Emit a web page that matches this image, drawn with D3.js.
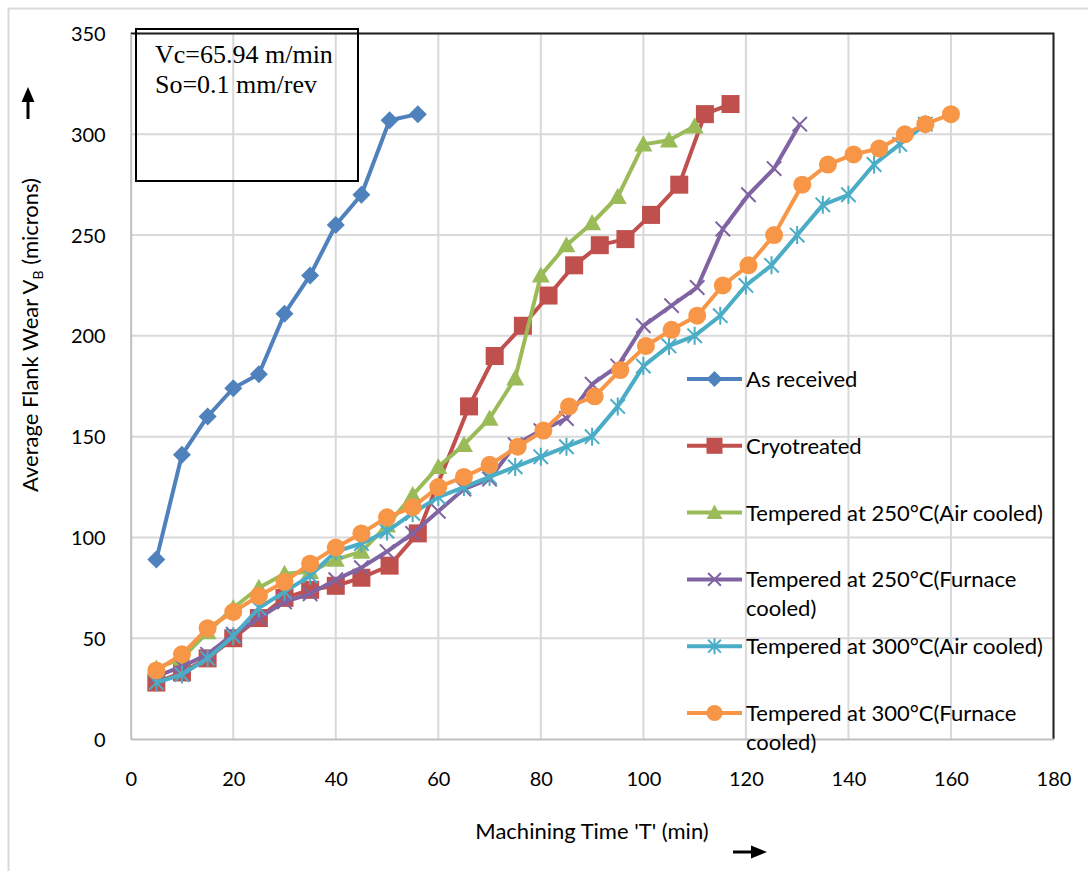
<!DOCTYPE html>
<html>
<head>
<meta charset="utf-8">
<script src="https://cdn.jsdelivr.net/npm/d3@7"></script>
<style>
  body { margin: 0; background: #fff; }
  svg { display: block; }
</style>
</head>
<body>
<div id="chartContainer"></div>
<script>
const W = 1088;
const H = 871;

// x / y ticks
const xTicks = [0, 20, 40, 60, 80, 100, 120, 140, 160, 180];
const yTicks = [0, 50, 100, 150, 200, 250, 300, 350];

// series (machining time in min, flank wear in microns)
const asReceivedT = [5, 10, 15, 20, 25, 30, 35, 40, 45, 50.5, 56];
const asReceivedVB = [89, 141, 160, 174, 181, 211, 230, 255, 270, 307, 310];

const cryoT = [5, 10, 15, 20, 25, 30, 35, 40, 45, 50.5, 56, 66, 71, 76.5, 81.5, 86.5, 91.5, 96.5, 101.5, 107, 112, 117];
const cryoVB = [28, 33, 40, 50, 60, 70, 74, 76, 80, 86, 102, 165, 190, 205, 220, 235, 245, 248, 260, 275, 310, 315];

const t250AirT = [5, 10, 15, 20, 25, 30, 35, 40, 45, 50, 55, 60, 65, 70, 75, 80, 85, 90, 95, 100, 105, 110];
const t250AirVB = [35, 40, 53, 65, 75, 82, 83, 89, 93, 106, 121, 135, 146, 159, 179, 230, 245, 256, 269, 295, 297, 304];

const t250FurnT = [5, 10, 15, 20, 25, 30, 35, 40, 45, 50, 55, 60, 65, 70, 75, 80, 85, 90, 95, 100, 105.5, 110.5, 115.5, 120.5, 125.5, 130.5];
const t250FurnVB = [31, 36, 42, 52, 60, 68, 72, 79, 85, 93, 102, 113, 124, 129, 146, 153, 159, 176, 185, 205, 215, 224, 253, 270, 283, 305];

const t300AirT = [5, 10, 15, 20, 25, 30, 35, 40, 45, 50, 55, 60, 65, 70, 75, 80, 85, 90, 95, 100, 105, 110, 115, 120, 125, 130, 135, 140, 145, 150, 155];
const t300AirVB = [28, 32, 40, 51, 65, 73, 81, 93, 97, 103, 112, 120, 125, 130, 135, 140, 145, 150, 165, 185, 195, 200, 210, 225, 235, 250, 265, 270, 285, 295, 305];

const t300FurnT = [5, 10, 15, 20, 25, 30, 35, 40, 45, 50, 55, 60, 65, 70, 75.5, 80.5, 85.5, 90.5, 95.5, 100.5, 105.5, 110.5, 115.5, 120.5, 125.5, 131, 136, 141, 146, 151, 155, 160];
const t300FurnVB = [34, 42, 55, 63, 71, 78, 87, 95, 102, 110, 115, 125, 130, 136, 145, 153, 165, 170, 183, 195, 203, 210, 225, 235, 250, 275, 285, 290, 293, 300, 305, 310];

const seriesNames = [
  "As received",
  "Cryotreated",
  "Tempered at 250°C(Air cooled)",
  "Tempered at 250°C(Furnace cooled)",
  "Tempered at 300°C(Air cooled)",
  "Tempered at 300°C(Furnace cooled)"
];
const legendLines = [
  ["As received"],
  ["Cryotreated"],
  ["Tempered at 250°C(Air cooled)"],
  ["Tempered at 250°C(Furnace", "cooled)"],
  ["Tempered at 300°C(Air cooled)"],
  ["Tempered at 300°C(Furnace", "cooled)"]
];
const colors = ["#4F81BD", "#C0504D", "#9BBB59", "#8064A2", "#4BACC6", "#F79646"];
const shapes = ["diamond", "square", "triangle", "cross", "star", "circle"];

const allT = [asReceivedT, cryoT, t250AirT, t250FurnT, t300AirT, t300FurnT];
const allVB = [asReceivedVB, cryoVB, t250AirVB, t250FurnVB, t300AirVB, t300FurnVB];

const series = seriesNames.map((name, i) => ({
  name: name,
  color: colors[i],
  shape: shapes[i],
  values: allT[i].map((t, j) => ({ t: t, vb: allVB[i][j] }))
}));

const font = "Lato, 'Open Sans', sans-serif";

const plot = { left: 130.7, right: 1053.5, top: 33.5, bottom: 739 };

const xScale = d3.scaleLinear().domain([0, 180]).range([plot.left, plot.right]);
const yScale = d3.scaleLinear().domain([0, 350]).range([plot.bottom, plot.top]);

const svg = d3.select("#chartContainer")
  .append("svg")
  .attr("width", W)
  .attr("height", H)
  .attr("viewBox", [0, 0, W, H]);

svg.append("rect").attr("width", W).attr("height", H).attr("fill", "#fff");

// outer chart frame
svg.append("rect")
  .attr("x", 8.5).attr("y", 8.5)
  .attr("width", W + 20).attr("height", H + 20)
  .attr("fill", "none")
  .attr("stroke", "#d9d9d9")
  .attr("stroke-width", 2);

// gridlines
const grid = svg.append("g");
grid.selectAll(".gx")
  .data(xTicks.slice(1))
  .enter()
  .append("line")
  .attr("x1", d => xScale(d)).attr("x2", d => xScale(d))
  .attr("y1", plot.top).attr("y2", plot.bottom)
  .attr("stroke", "#d9d9d9").attr("stroke-width", 2);
grid.selectAll(".gy")
  .data(yTicks.slice(1))
  .enter()
  .append("line")
  .attr("x1", plot.left).attr("x2", plot.right)
  .attr("y1", d => yScale(d)).attr("y2", d => yScale(d))
  .attr("stroke", "#d9d9d9").attr("stroke-width", 2);

// plot frame: black top / right, grey axes
svg.append("path")
  .attr("d", `M${plot.left},${plot.top}H${plot.right}V${plot.bottom}`)
  .attr("fill", "none").attr("stroke", "#222").attr("stroke-width", 2);

const xAxis = d3.axisBottom(xScale).tickValues(xTicks).tickSize(0).tickPadding(0);
const yAxis = d3.axisLeft(yScale).tickValues(yTicks).tickSize(0).tickPadding(0);

const gx = svg.append("g")
  .attr("transform", `translate(0, ${plot.bottom})`)
  .call(xAxis);
gx.select(".domain").attr("stroke", "#bfbfbf").attr("stroke-width", 2);
gx.selectAll("text")
  .attr("y", 47)
  .attr("dy", 0)
  .attr("fill", "#000")
  .style("font-family", font)
  .style("font-size", "20px");

const gy = svg.append("g")
  .attr("transform", `translate(${plot.left}, 0)`)
  .call(yAxis);
gy.select(".domain").attr("stroke", "#bfbfbf").attr("stroke-width", 2);
gy.selectAll("text")
  .attr("x", -25)
  .attr("dy", "0.35em")
  .attr("fill", "#000")
  .style("font-family", font)
  .style("font-size", "20px");

// marker drawing
function marker(sel, shape, color, s) {
  if (shape == "diamond") {
    sel.append("path")
      .attr("d", `M0,${-s}L${s},0L0,${s}L${-s},0Z`)
      .attr("fill", color);
  } else if (shape == "square") {
    sel.append("rect")
      .attr("x", -s).attr("y", -s).attr("width", 2 * s).attr("height", 2 * s)
      .attr("fill", color);
  } else if (shape == "triangle") {
    sel.append("path")
      .attr("d", `M0,${-s}L${s},${s * 0.8}L${-s},${s * 0.8}Z`)
      .attr("fill", color);
  } else if (shape == "circle") {
    sel.append("circle").attr("r", s).attr("fill", color);
  } else if (shape == "cross" || shape == "star") {
    const k = s * 0.8;
    let d = `M${-k},${-k}L${k},${k}M${-k},${k}L${k},${-k}`;
    if (shape == "star") d += `M0,${-s}L0,${s}`;
    sel.append("path")
      .attr("d", d)
      .attr("fill", "none")
      .attr("stroke", color)
      .attr("stroke-width", 2);
  }
}

const line = d3.line()
  .x(d => xScale(d.t))
  .y(d => yScale(d.vb));

series.forEach(s => {
  const g = svg.append("g");
  g.append("path")
    .datum(s.values)
    .attr("d", line)
    .attr("fill", "none")
    .attr("stroke", s.color)
    .attr("stroke-width", 4)
    .attr("stroke-linejoin", "round");
  g.selectAll(".pt")
    .data(s.values)
    .enter()
    .append("g")
    .attr("transform", d => `translate(${xScale(d.t)}, ${yScale(d.vb)})`)
    .each(function () { marker(d3.select(this), s.shape, s.color, 9); });
});

// legend
const legendX = 687;
const legendTop = 379;
const legendStep = 66.8;
series.forEach((s, i) => {
  const g = svg.append("g")
    .attr("transform", `translate(${legendX}, ${legendTop + i * legendStep})`);
  g.append("line")
    .attr("x1", 0).attr("x2", 55)
    .attr("stroke", s.color).attr("stroke-width", 4);
  const m = g.append("g").attr("transform", "translate(27.5, 0)");
  marker(m, s.shape, s.color, 8);
  const txt = g.append("text")
    .attr("x", 59)
    .attr("y", 8)
    .style("font-family", font)
    .style("font-size", "22px")
    .attr("fill", "#000");
  legendLines[i].forEach((l, j) => {
    txt.append("tspan").attr("x", 59).attr("dy", j == 0 ? 0 : 29).text(l);
  });
});

// condition box
svg.append("rect")
  .attr("x", 136).attr("y", 29)
  .attr("width", 222).attr("height", 152)
  .attr("fill", "none")
  .attr("stroke", "#000")
  .attr("stroke-width", 2);
svg.append("text")
  .attr("x", 155).attr("y", 63)
  .style("font-family", "'Liberation Serif', 'Times New Roman', serif")
  .style("font-size", "26px")
  .text("Vc=65.94 m/min");
svg.append("text")
  .attr("x", 155).attr("y", 93)
  .style("font-family", "'Liberation Serif', 'Times New Roman', serif")
  .style("font-size", "26px")
  .text("So=0.1 mm/rev");

// axis titles
const yTitle = svg.append("text")
  .attr("transform", "translate(38, 335) rotate(-90)")
  .attr("text-anchor", "middle")
  .style("font-family", font)
  .style("font-size", "22px");
yTitle.append("tspan").text("Average Flank Wear V");
yTitle.append("tspan").attr("dy", 5).style("font-size", "14px").text("B");
yTitle.append("tspan").attr("dy", -5).text(" (microns)");

svg.append("text")
  .attr("x", 592).attr("y", 839)
  .attr("text-anchor", "middle")
  .style("font-family", font)
  .style("font-size", "22px")
  .text("Machining Time 'T' (min)");

// arrows
svg.append("line")
  .attr("x1", 28).attr("x2", 28).attr("y1", 119).attr("y2", 100)
  .attr("stroke", "#000").attr("stroke-width", 3);
svg.append("path")
  .attr("d", "M28,87L34.5,102L21.5,102Z")
  .attr("fill", "#000");
svg.append("line")
  .attr("x1", 733).attr("x2", 752).attr("y1", 852).attr("y2", 852)
  .attr("stroke", "#000").attr("stroke-width", 3);
svg.append("path")
  .attr("d", "M767,852L751,845.5L751,858.5Z")
  .attr("fill", "#000");
</script>
</body>
</html>
